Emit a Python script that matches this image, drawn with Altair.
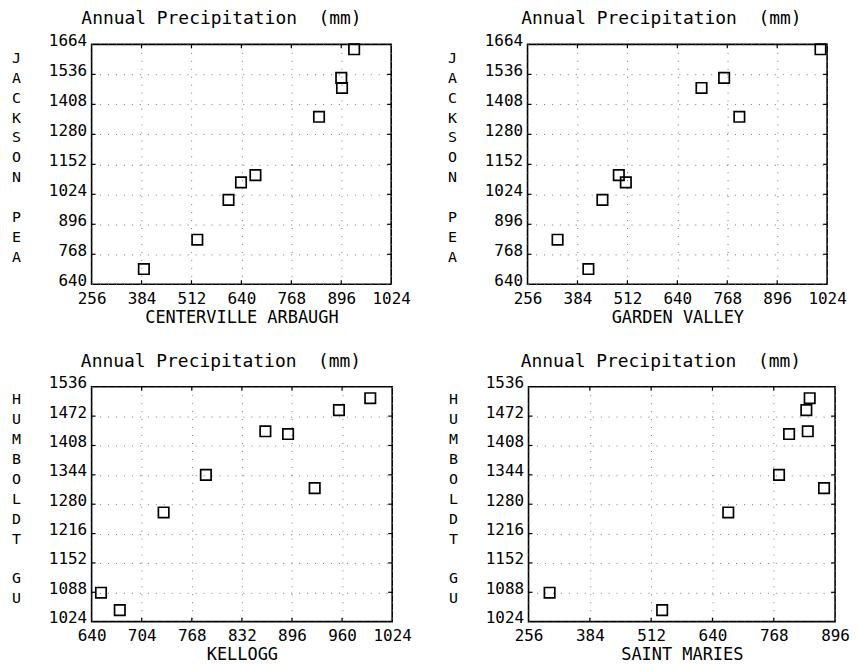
import altair as alt
import pandas as pd

# Annual precipitation (mm), nine paired years per station
jackson_pea = [705, 830, 1000, 1075, 1106, 1355, 1521, 1478, 1643]
centerville_arbaugh = [390, 527, 607, 639, 676, 839, 896, 898, 929]
garden_valley = [412, 333, 448, 508, 490, 799, 760, 702, 1007]

humboldt_gu = [1087, 1049, 1262, 1344, 1439, 1433, 1315, 1485, 1511]
kellogg = [652, 676, 732, 786, 862, 891, 925, 956, 996]
saint_maries = [300, 535, 673, 779, 839, 800, 873, 836, 843]

ticks_256_1024 = [256, 384, 512, 640, 768, 896, 1024]
ticks_640_1664 = [640, 768, 896, 1024, 1152, 1280, 1408, 1536, 1664]
ticks_640_1024 = [640, 704, 768, 832, 896, 960, 1024]
ticks_1024_1536 = [1024, 1088, 1152, 1216, 1280, 1344, 1408, 1472, 1536]
ticks_256_896 = [256, 384, 512, 640, 768, 896]

FONT = "DejaVu Sans Mono"
TITLE = "Annual\u00a0Precipitation\u00a0\u00a0(mm)"


def stacked(name):
    return [c if c != " " else "\u2800" for c in name]


def panel(xv, yv, xname, yname, xticks, yticks, w, h, ty, tdx):
    df = pd.DataFrame({"x": xv, "y": yv})
    xs = alt.Scale(domain=[xticks[0], xticks[-1]], nice=False, zero=False)
    ys = alt.Scale(domain=[yticks[0], yticks[-1]], nice=False, zero=False)
    xa = alt.Axis(values=xticks, title=xname, format="d", labelPadding=6,
                  titlePadding=3, titleFontSize=17, labelFlush=False)
    ya = alt.Axis(values=yticks, title=stacked(yname), format="d", labelPadding=5,
                  labelOffset=-4, titleAngle=0, titleX=-76, titleY=ty,
                  titleAlign="center", titleBaseline="middle", titleLineHeight=20,
                  titleFontSize=15, labelFlush=False)
    pts = alt.Chart(df).mark_point(
        shape="square", size=110, filled=False, color="black",
        strokeWidth=1.7, opacity=1
    ).encode(
        x=alt.X("x:Q", scale=xs, axis=xa),
        y=alt.Y("y:Q", scale=ys, axis=ya),
    )
    dx = pd.DataFrame({"x": xticks[1:-1]})
    dy = pd.DataFrame({"y": yticks[1:-1]})
    rule = dict(color="black", strokeWidth=1.2)
    tb = alt.Chart(dx).mark_rule(**rule).encode(
        x=alt.X("x:Q", scale=xs, axis=xa), y=alt.value(h), y2=alt.value(h - 4))
    tt = alt.Chart(dx).mark_rule(**rule).encode(
        x=alt.X("x:Q", scale=xs, axis=xa), y=alt.value(0), y2=alt.value(4))
    tl = alt.Chart(dy).mark_rule(**rule).encode(
        y=alt.Y("y:Q", scale=ys, axis=ya), x=alt.value(0), x2=alt.value(4))
    tr = alt.Chart(dy).mark_rule(**rule).encode(
        y=alt.Y("y:Q", scale=ys, axis=ya), x=alt.value(w), x2=alt.value(w - 4))
    return alt.layer(pts, tb, tt, tl, tr).properties(
        width=w, height=h,
        title=alt.TitleParams(TITLE, dx=tdx, offset=4, frame="group"),
    )


p1 = panel(centerville_arbaugh, jackson_pea, "CENTERVILLE ARBAUGH", "JACKSON PEA",
           ticks_256_1024, ticks_640_1664, 301, 241, 13, -20)
p2 = panel(garden_valley, jackson_pea, "GARDEN VALLEY", "JACKSON PEA",
           ticks_256_1024, ticks_640_1664, 301, 241, 13, -16)
p3 = panel(kellogg, humboldt_gu, "KELLOGG", "HUMBOLDT GU",
           ticks_640_1024, ticks_1024_1536, 302, 236, 12, -21)
p4 = panel(saint_maries, humboldt_gu, "SAINT MARIES", "HUMBOLDT GU",
           ticks_256_896, ticks_1024_1536, 308, 236, 12, -21)

chart = alt.vconcat(
    alt.hconcat(p1, p2, spacing=33),
    alt.hconcat(p3, p4, spacing=33),
    spacing=26,
).properties(
    padding={"left": 1, "top": 0, "right": 0, "bottom": 0}, background="white"
).configure_view(
    stroke="black", strokeWidth=1.6
).configure_axis(
    labelFont=FONT, labelFontSize=16, labelColor="black",
    titleFont=FONT, titleColor="black", titleFontWeight="normal",
    domain=False, ticks=False, grid=True, gridColor="#777", gridDash=[1, 7],
    gridWidth=1,
).configure_title(
    font=FONT, fontSize=18, fontWeight="normal", color="black", anchor="middle"
)

chart.save("out.html", embed_options={"renderer": "svg", "actions": False})
